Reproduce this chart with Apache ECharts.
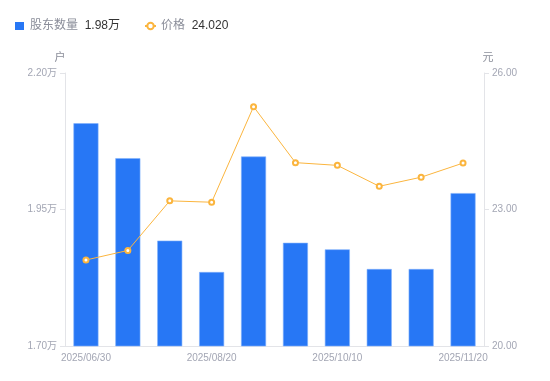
<!DOCTYPE html>
<html><head><meta charset="utf-8">
<script src="https://cdn.jsdelivr.net/npm/echarts@6/dist/echarts.min.js"></script>
<style>html,body{margin:0;padding:0;background:#fff}#c{width:550px;height:381px}</style>
</head><body><div id="c"></div>
<script>
const categories = ['2025/06/30','2025/07/10','2025/07/31','2025/08/20','2025/08/31','2025/09/19','2025/10/10','2025/10/31','2025/11/10','2025/11/20'];
const holders = [21080, 20440, 18930, 18355, 20470, 18890, 18770, 18410, 18410, 19800];
const prices = [21.89, 22.10, 23.19, 23.16, 25.26, 24.03, 23.97, 23.51, 23.71, 24.02];
const leftTicks = [17000, 19500, 22000];
const rightTicks = [20, 23, 26];

const chart = echarts.init(document.getElementById('c'));
const lastH = (holders[holders.length-1]/10000).toFixed(2) + '万';
const lastP = prices[prices.length-1].toFixed(3);
const fontFam = '"Liberation Sans","Noto Sans CJK SC",sans-serif';
chart.setOption({
  animation: false,
  textStyle: {fontFamily: fontFam},
  legend: {
    left: 10, top: 15, itemWidth: 11, itemHeight: 8, itemGap: 24,
    data: [{name: '股东数量', icon: 'path://M0,0h9v8h-9z', itemStyle: {borderWidth: 0, color: '#2777f5'}}, {name: '价格'}],
    formatter: function(n){ return n === '股东数量' ? '{a|' + n + '}  {b|' + lastH + '}' : '{a|' + n + '}  {b|' + lastP + '}'; },
    textStyle: {rich: {a: {color: '#8a8d99', fontSize: 12, fontFamily: fontFam}, b: {color: '#333', fontSize: 12, fontFamily: fontFam}}}
  },
  grid: {left: 65, right: 66, top: 73, bottom: 35},
  xAxis: {
    type: 'category', data: categories,
    axisLine: {lineStyle: {color: '#e3e4e8'}},
    axisTick: {show: false},
    axisLabel: {interval: 2, color: '#a3a6b4', fontSize: 10, margin: 7}
  },
  yAxis: [{
    type: 'value', min: 17000, max: 22000, interval: 2500,
    name: '户', nameTextStyle: {color: '#8a8d99', fontSize: 11, padding: [0, 10, 0, 0]}, nameGap: 10,
    axisLine: {show: true, lineStyle: {color: '#e3e4e8'}},
    axisTick: {show: true, length: 5, lineStyle: {color: '#e3e4e8'}},
    splitLine: {show: false},
    axisLabel: {color: '#a3a6b4', fontSize: 10, margin: 8, formatter: v => (v/10000).toFixed(2) + '万'}
  }, {
    type: 'value', min: 20, max: 26, interval: 3,
    name: '元', nameTextStyle: {color: '#8a8d99', fontSize: 11, padding: [0, 0, 0, 8]}, nameGap: 10,
    axisLine: {show: true, lineStyle: {color: '#e3e4e8'}},
    axisTick: {show: true, length: 5, lineStyle: {color: '#e3e4e8'}},
    splitLine: {show: false},
    axisLabel: {color: '#a3a6b4', fontSize: 10, margin: 8, formatter: v => v.toFixed(2)}
  }],
  series: [{
    name: '股东数量', type: 'bar', data: holders, barWidth: 25,
    itemStyle: {color: '#2777f5', borderColor: '#7fb0fb', borderWidth: 0.6}
  }, {
    name: '价格', type: 'line', yAxisIndex: 1, data: prices,
    symbol: 'emptyCircle', symbolSize: 5,
    lineStyle: {color: '#fbb53e', width: 1},
    itemStyle: {color: '#fbb53e', borderWidth: 2}
  }]
});
</script></body></html>
